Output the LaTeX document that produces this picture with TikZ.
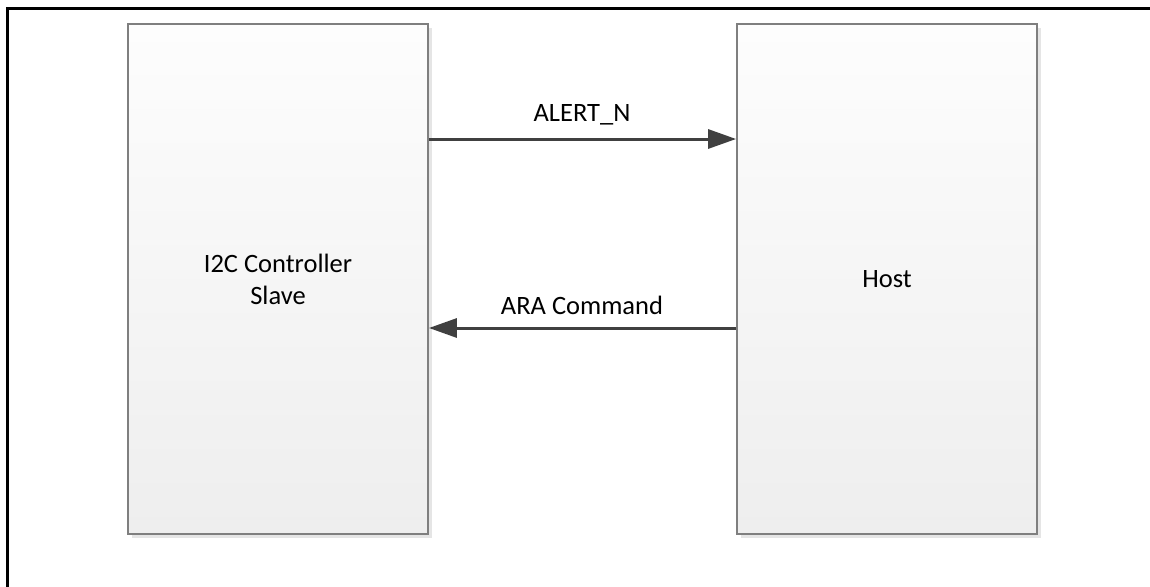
\documentclass[tikz,border=0pt]{standalone}
\usepackage{fontspec}
\setmainfont{Carlito}
\usetikzlibrary{arrows.meta,shadows}
\definecolor{boxtop}{HTML}{FDFDFD}
\definecolor{boxbot}{HTML}{EEEEEE}
\definecolor{boxline}{HTML}{7F7F7F}
\definecolor{arrowc}{HTML}{404040}
\tikzset{
  block/.style={draw=boxline, line width=1.8pt, top color=boxtop, bottom color=boxbot,
    minimum width=300pt, minimum height=510pt, inner sep=0pt, align=center,
    font=\fontsize{26.5}{32}\selectfont,
    drop shadow={shadow xshift=4pt, shadow yshift=-4pt, fill=black!10, opacity=1}},
  sig/.style={draw=arrowc, line width=3pt, -{Triangle[length=28pt,width=19pt]}},
  lbl/.style={font=\fontsize{26.5}{32}\selectfont, text=black, inner sep=0pt}
}
\begin{document}
\begin{tikzpicture}[x=1pt,y=-1pt]
\useasboundingbox (0,0) rectangle (1150,586);
\draw[line width=3pt] (7,600) -- (7,9) -- (1160,9);
\node[block] (slave) at (278,279) {I2C Controller\\Slave};
\node[block] (host) at (887,279) {Host};
\coordinate (a1) at (428,139);
\coordinate (a2) at (737,139);
\coordinate (b1) at (737,328);
\coordinate (b2) at (428,328);
\draw[sig] (slave.east |- a1) -- (host.west |- a2);
\draw[sig] (host.west |- b1) -- (slave.east |- b2);
\node[lbl] (l1) at (582,115) {ALERT\_N};
\node[lbl] (l2) at (582,305) {ARA Command};
\end{tikzpicture}
\end{document}
